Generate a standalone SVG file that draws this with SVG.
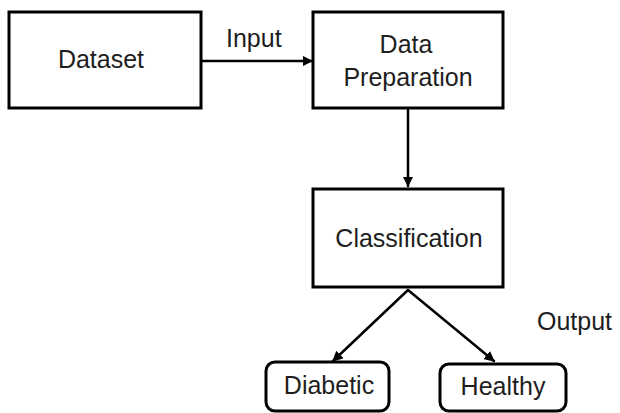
<svg xmlns="http://www.w3.org/2000/svg" width="620" height="413" viewBox="0 0 620 413">
<style>
.box{fill:#fff;stroke:#000;stroke-width:3}
.t{font-family:"Liberation Sans",Arial,sans-serif;font-size:25px;fill:#1e1e1e}
.c{stroke:#000;stroke-width:2.5;fill:none;stroke-linecap:round}
</style>
<defs>
<marker id="ah" viewBox="0 0 10 10" refX="9" refY="5" markerWidth="4.2" markerHeight="4.2" orient="auto" markerUnits="strokeWidth">
<path d="M0,0 L10,5 L0,10 z" fill="#000"/>
</marker>
</defs>
<rect width="620" height="413" fill="#fff"/>
<g id="connectors">
<line class="c" x1="201" y1="61" x2="312" y2="61" marker-end="url(#ah)"/>
<line class="c" x1="408" y1="110" x2="408" y2="186" marker-end="url(#ah)"/>
<line class="c" x1="408" y1="290" x2="333" y2="361" marker-end="url(#ah)"/>
<line class="c" x1="408" y1="290" x2="494" y2="361" marker-end="url(#ah)"/>
<text class="t" x="226" y="47">Input</text>
<text class="t" x="537" y="330">Output</text>
</g>
<g id="dataset">
<rect class="box" x="9" y="12" width="192" height="96"/>
<text class="t" x="101" y="68" text-anchor="middle">Dataset</text>
</g>
<g id="data-preparation">
<rect class="box" x="313" y="12" width="190" height="96"/>
<text class="t" x="406" y="53" text-anchor="middle">Data</text>
<text class="t" x="408" y="86" text-anchor="middle">Preparation</text>
</g>
<g id="classification">
<rect class="box" x="313" y="189" width="190" height="98"/>
<text class="t" x="409" y="247" text-anchor="middle">Classification</text>
</g>
<g id="diabetic">
<rect class="box" x="266" y="362" width="123" height="49" rx="9"/>
<text class="t" x="329" y="394" text-anchor="middle">Diabetic</text>
</g>
<g id="healthy">
<rect class="box" x="440" y="364" width="126" height="47" rx="9"/>
<text class="t" x="503" y="395" text-anchor="middle">Healthy</text>
</g>
</svg>
